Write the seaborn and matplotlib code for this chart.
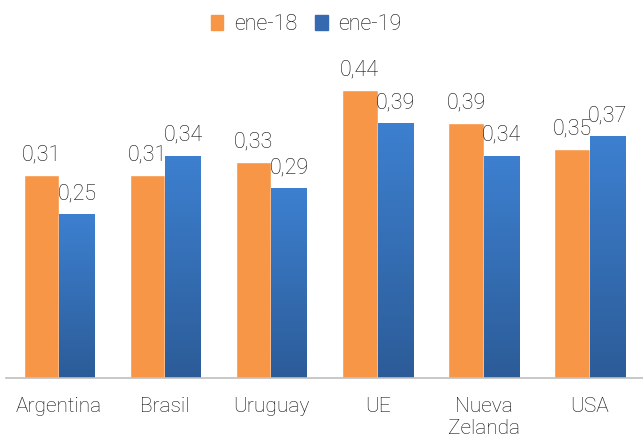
import matplotlib
matplotlib.use("Agg")
import matplotlib.pyplot as plt
import seaborn as sns
import pandas as pd
import numpy as np
from matplotlib.colors import LinearSegmentedColormap
from matplotlib.patches import Patch

# Data
paises = ['Argentina', 'Brasil', 'Uruguay', 'UE', 'Nueva\nZelanda', 'USA']
ene_18 = [0.31, 0.31, 0.33, 0.44, 0.39, 0.35]
ene_19 = [0.25, 0.34, 0.29, 0.39, 0.34, 0.37]
series = ['ene-18', 'ene-19']

df = pd.DataFrame({
    'Pais': paises * 2,
    'Serie': [series[0]] * len(paises) + [series[1]] * len(paises),
    'Valor': ene_18 + ene_19,
})

orange = '#F79646'
blue_top = '#3D80D0'
blue_bot = '#2C5C98'
text_col = '#0d0d0d'

sns.set_style('white')
plt.rcParams['font.family'] = ['Roboto', 'DejaVu Sans']
plt.rcParams['font.weight'] = 'light'

fig = plt.figure(figsize=(6.43, 4.44), dpi=100)
ax = fig.add_axes([6 / 643, 1 - 378 / 444, 637 / 643, (378 - 51) / 444])

sns.barplot(data=df, x='Pais', y='Valor', hue='Serie', palette=[orange, '#3569B0'],
            width=0.67, ax=ax, legend=False, saturation=1)

# gradient on blue bars
cmap = LinearSegmentedColormap.from_list('g', [blue_bot, blue_top])
grad = np.linspace(0, 1, 256).reshape(-1, 1)
for c in ax.containers[1]:
    x0, y0 = c.get_x(), c.get_y()
    w, h = c.get_width(), c.get_height()
    im = ax.imshow(grad, cmap=cmap, aspect='auto', origin='lower',
                   extent=[x0, x0 + w, y0, y0 + h], zorder=c.get_zorder() + 0.1)
    im.set_clip_path(c)
ax.set_xlim(-0.5, len(paises) - 0.5)
ax.set_ylim(0, 0.5)

for cont in ax.containers:
    vals = [p.get_height() for p in cont]
    ax.bar_label(cont, labels=[f'{v:.2f}'.replace('.', ',') for v in vals],
                 padding=7, fontsize=15.5, color=text_col)

ax.set_xlabel('')
ax.set_ylabel('')
ax.set_yticks([])
ax.tick_params(axis='x', length=0, labelsize=15, labelcolor=text_col, pad=14)
for s in ['top', 'right', 'left']:
    ax.spines[s].set_visible(False)
ax.spines['bottom'].set_color('#BFBFBF')
ax.spines['bottom'].set_linewidth(1.2)

handles = [Patch(color=orange, label=series[0]), Patch(color='#3569B0', label=series[1])]
fig.legend(handles=handles, loc='center', bbox_to_anchor=(0.476, 0.945), ncol=2,
           frameon=False, fontsize=15.5, handlelength=0.6, handleheight=0.7,
           handletextpad=0.5, columnspacing=0.8, labelcolor=text_col)

fig.savefig('out.png', dpi=100)
